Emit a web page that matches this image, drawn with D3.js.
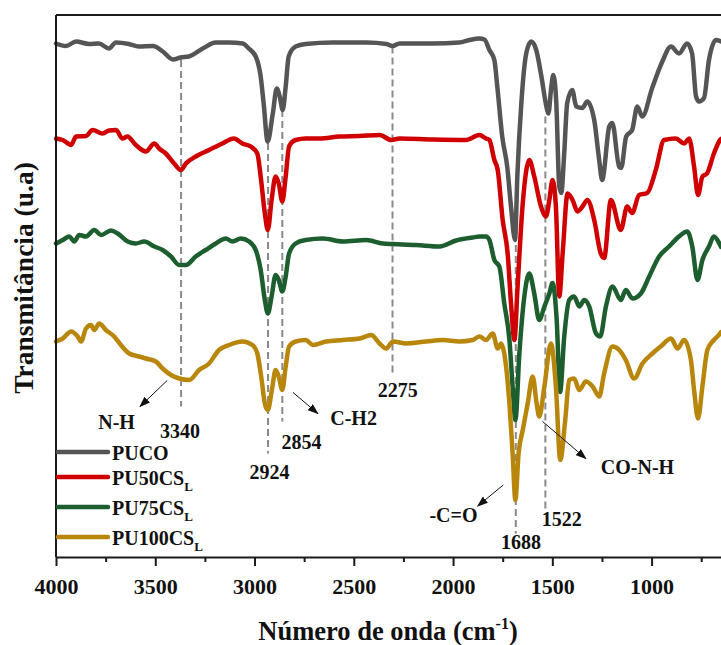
<!DOCTYPE html>
<html>
<head>
<meta charset="utf-8">
<script src="https://cdn.jsdelivr.net/npm/d3@7"></script>
<style>
  body { margin: 0; background: #fff; }
  svg { display: block; font-family: "Liberation Serif", "Times New Roman", serif; font-weight: bold; }
  .curve { fill: none; stroke-width: 4.5; stroke-linejoin: round; stroke-linecap: round; }
  .guide { stroke: #8a8a8a; stroke-width: 2; stroke-dasharray: 7,4; }
  .arrow { stroke: #111; stroke-width: 1; fill: none; }
  .frame { stroke: #1a1a1a; stroke-width: 2; fill: none; }
</style>
</head>
<body>
<svg id="canvas" width="721" height="645"></svg>
<script>
  // spectra: [wavenumber cm-1, transmittance (u.a., stacked)]
  const puco = [[4000,102.7],[3950,102.2],[3899,103.1],[3834,102.6],[3784,102.7],[3733,101.7],[3698,102.9],[3633,102.6],[3583,102.1],[3512,102.2],[3462,101.1],[3411,99.5],[3371,99.9],[3331,100.1],[3261,101.7],[3195,102.9],[3130,102.9],[3059,102.7],[3029,101.7],[2994,100.1],[2969,96.1],[2954,90.7],[2934,83.1],[2908,88.7],[2888,93.7],[2873,92.1],[2858,89.4],[2843,94.1],[2828,100.1],[2793,102.1],[2742,102.6],[2607,102.9],[2436,102.9],[2335,102.6],[2305,102.2],[2270,102.7],[2104,102.7],[1968,102.9],[1918,103.4],[1867,103.7],[1842,103.5],[1817,101.4],[1792,99.4],[1777,94.0],[1752,84.0],[1727,78.0],[1708,70.0],[1688,63.4],[1676,76.4],[1656,90.8],[1631,100.8],[1606,103.1],[1581,101.4],[1555,96.1],[1530,90.1],[1520,88.7],[1505,94.1],[1495,96.4],[1480,90.8],[1465,74.1],[1455,72.8],[1440,80.8],[1425,90.8],[1400,93.4],[1379,90.1],[1349,89.8],[1324,91.1],[1289,87.4],[1264,79.4],[1249,75.4],[1213,86.1],[1198,86.8],[1163,78.0],[1153,77.8],[1128,84.1],[1098,85.4],[1072,90.1],[1047,88.1],[997,93.8],[947,99.0],[902,102.1],[862,100.7],[821,102.7],[796,100.7],[776,92.1],[761,91.1],[736,91.8],[711,99.4],[675,103.4],[650,103.1]];

  const pu50 = [[4000,83.7],[3966,83.4],[3924,82.4],[3899,84.1],[3849,84.2],[3816,85.4],[3765,84.7],[3732,85.3],[3698,85.4],[3665,83.7],[3640,84.1],[3598,82.4],[3547,81.1],[3505,82.7],[3480,81.7],[3447,80.7],[3405,78.7],[3371,77.4],[3346,78.7],[3296,80.1],[3229,81.4],[3162,82.7],[3104,83.7],[3061,82.7],[3019,82.1],[2986,80.7],[2969,76.1],[2948,68.7],[2933,65.4],[2914,71.4],[2894,76.1],[2878,74.7],[2860,71.1],[2843,76.1],[2826,82.1],[2793,83.4],[2742,83.7],[2672,83.7],[2571,84.1],[2471,84.2],[2370,84.4],[2311,83.4],[2270,83.7],[2102,83.5],[1935,83.4],[1867,84.4],[1834,83.7],[1817,83.4],[1792,79.4],[1775,77.4],[1750,67.4],[1725,60.7],[1708,50.7],[1691,43.4],[1675,54.1],[1649,70.7],[1616,79.4],[1591,76.1],[1557,70.1],[1532,68.1],[1515,71.4],[1499,75.4],[1482,70.1],[1465,52.1],[1448,60.7],[1423,72.7],[1398,71.4],[1373,69.1],[1348,70.1],[1323,71.4],[1289,67.4],[1256,60.7],[1239,59.8],[1205,71.4],[1155,65.4],[1123,70.1],[1098,68.8],[1063,72.4],[1022,72.8],[979,77.4],[937,83.4],[878,83.7],[836,82.7],[811,83.7],[786,78.1],[766,72.4],[744,76.1],[721,76.7],[686,80.7],[655,83.4],[650,83.6]];

  const pu75 = [[4000,62.7],[3966,63.4],[3933,64.1],[3908,63.1],[3883,64.4],[3849,64.1],[3807,65.4],[3773,64.4],[3723,65.3],[3689,64.7],[3639,63.1],[3598,62.7],[3556,63.1],[3505,62.1],[3463,61.4],[3421,60.1],[3379,58.4],[3346,58.4],[3296,60.1],[3246,61.4],[3195,62.7],[3145,63.7],[3111,63.1],[3069,63.7],[3027,63.1],[2994,61.4],[2969,57.4],[2948,51.4],[2933,48.7],[2914,52.1],[2894,56.4],[2878,55.4],[2860,53.1],[2843,56.1],[2826,60.7],[2793,62.7],[2742,63.4],[2656,63.7],[2555,63.1],[2437,63.4],[2354,62.7],[2303,62.6],[2186,62.4],[2068,62.1],[1985,63.3],[1901,63.9],[1867,64.1],[1834,64.1],[1817,63.4],[1792,59.4],[1767,58.1],[1742,50.7],[1716,43.4],[1700,34.1],[1686,27.4],[1666,40.7],[1641,52.1],[1616,56.7],[1591,52.7],[1566,47.4],[1540,50.1],[1515,52.7],[1499,54.8],[1478,47.4],[1461,33.0],[1440,44.1],[1415,51.4],[1390,52.1],[1364,50.1],[1339,51.4],[1314,50.1],[1280,44.7],[1259,44.1],[1230,50.1],[1197,54.1],[1155,51.4],[1130,53.4],[1096,51.7],[1054,52.7],[1012,56.1],[962,60.1],[912,62.1],[862,64.1],[820,65.1],[795,62.1],[769,55.4],[744,59.4],[711,62.1],[686,64.1],[655,62.4],[650,62.0]];

  const pu100 = [[4000,43.1],[3966,43.7],[3924,45.1],[3891,44.1],[3874,43.1],[3849,45.7],[3824,46.4],[3807,45.4],[3782,46.7],[3749,45.4],[3707,44.1],[3673,42.4],[3631,40.7],[3581,40.1],[3547,39.7],[3497,39.1],[3463,37.7],[3421,36.4],[3379,35.7],[3329,35.4],[3279,37.4],[3229,38.7],[3179,41.4],[3128,42.4],[3061,43.1],[3011,42.4],[2986,40.7],[2964,35.4],[2948,30.7],[2933,29.4],[2910,34.1],[2894,37.4],[2878,36.1],[2860,33.4],[2843,38.1],[2826,42.1],[2793,43.1],[2742,43.4],[2706,42.4],[2639,43.1],[2555,43.4],[2471,43.7],[2412,44.4],[2370,42.7],[2337,41.7],[2303,43.1],[2236,42.7],[2135,43.1],[2052,43.4],[1968,43.1],[1901,43.4],[1867,44.1],[1834,43.4],[1800,44.7],[1775,41.7],[1758,42.7],[1742,40.7],[1716,30.7],[1700,20.7],[1686,11.4],[1670,20.7],[1649,25.4],[1624,30.7],[1599,36.1],[1579,30.7],[1566,28.1],[1540,34.1],[1507,42.7],[1482,34.1],[1460,19.4],[1435,27.4],[1415,35.4],[1390,35.7],[1364,33.4],[1331,35.1],[1297,34.1],[1264,32.1],[1239,36.7],[1197,42.1],[1163,41.4],[1130,39.4],[1088,35.7],[1046,38.7],[996,40.7],[954,42.1],[902,43.7],[869,41.7],[836,43.4],[802,39.4],[786,33.4],[766,27.7],[744,34.1],[719,41.4],[686,43.4],[655,44.7],[650,45.0]];

  const seriesNames = ["PUCO", "PU50CS", "PU75CS", "PU100CS"];
  const seriesSub = ["", "L", "L", "L"];
  const seriesData = [puco, pu50, pu75, pu100];
  const seriesColors = ["#555555", "#d00000", "#1c5e2e", "#b8860b"];

  const majorTicks = [4000, 3500, 3000, 2500, 2000, 1500, 1000];
  const minorTicks = [3750, 3250, 2750, 2250, 1750, 1250, 750];

  // dashed marker lines: wavenumber and [top, bottom] in transmittance units
  const guideWn = [3370, 2932, 2860, 2305, 1684, 1535];
  const guideSpan = [[99.4, 30.1], [82.8, 20.7], [89.4, 27.1], [102.1, 36.7], [62.4, 4.7], [88.1, 9.7]];
  const peakText = ["3340", "2924", "2854", "2275", "1688", "1522"];
  const peakAt = [[3376, 23.9], [2924, 15.7], [2764, 21.7], [2278, 32.1], [1658, 1.7], [1452, 6.2]];

  // band assignments with arrows [from, to]
  const bandText = ["N-H", "C-H2", "-C=O", "CO-N-H"];
  const bandAt = [[3695, 25.7], [2501, 26.4], [1998, 7.1], [1071, 16.6]];
  const bandArrow = [[[3440, 35.3], [3577, 30.1]], [[2806, 32.9], [2681, 28.7]], [[1747, 14.4], [1876, 10.2]], [[1549, 27.1], [1331, 19.7]]];

  const svg = d3.select("#canvas");
  const plotLeft = 56, plotTop = 15, plotBottom = 557, plotRight = 731;

  const x = d3.scaleLinear().domain([4000, 600]).range([plotLeft, plotRight]);
  const y = d3.scaleLinear().domain([0, 108.4]).range([plotBottom, plotTop]);

  svg.append("defs").append("marker")
      .attr("id", "head")
      .attr("markerUnits", "userSpaceOnUse")
      .attr("markerWidth", 11).attr("markerHeight", 8)
      .attr("refX", 10).attr("refY", 4)
      .attr("orient", "auto")
    .append("path")
      .attr("d", "M0,0 L11,4 L0,8 Z")
      .attr("fill", "#111");

  // guides
  svg.selectAll(".guide")
    .data(guideWn)
    .enter().append("line")
      .attr("class", "guide")
      .attr("x1", d => x(d)).attr("x2", d => x(d))
      .attr("y1", (d, i) => y(guideSpan[i][0]))
      .attr("y2", (d, i) => y(guideSpan[i][1]));

  // spectra
  let line = d3.line()
      .x(d => x(d[0]))
      .y(d => y(d[1]))
      .curve(d3.curveMonotoneX);

  seriesData.forEach((s, i) => {
    svg.append("path")
        .datum(s)
        .attr("class", "curve")
        .attr("stroke", seriesColors[i])
        .attr("d", line);
  });

  // frame
  svg.append("line").attr("class", "frame").attr("x1", plotLeft).attr("x2", plotRight).attr("y1", plotTop).attr("y2", plotTop);
  svg.append("line").attr("class", "frame").attr("x1", plotLeft).attr("x2", plotLeft).attr("y1", plotTop).attr("y2", plotBottom);

  let axis = svg.append("g")
      .attr("transform", `translate(0,${plotBottom})`)
      .call(d3.axisBottom(x).tickValues(majorTicks).tickSize(9).tickSizeOuter(0).tickPadding(12).tickFormat(d3.format("d")));
  axis.select(".domain").attr("stroke", "#1a1a1a").attr("stroke-width", 2);
  axis.selectAll(".tick line").attr("stroke", "#1a1a1a").attr("stroke-width", 2);
  axis.selectAll("text")
      .attr("font-family", "Liberation Serif, Times New Roman, serif")
      .attr("font-weight", "bold")
      .attr("font-size", 22)
      .attr("fill", "#111");

  let minor = svg.append("g")
      .attr("transform", `translate(0,${plotBottom})`)
      .call(d3.axisBottom(x).tickValues(minorTicks).tickSize(5).tickFormat(""));
  minor.select(".domain").remove();
  minor.selectAll(".tick line").attr("stroke", "#1a1a1a").attr("stroke-width", 2);

  // peak numbers
  svg.selectAll(".peak")
    .data(peakText)
    .enter().append("text")
      .attr("class", "peak")
      .attr("x", (d, i) => x(peakAt[i][0]))
      .attr("y", (d, i) => y(peakAt[i][1]))
      .attr("text-anchor", "middle")
      .attr("font-size", 20)
      .attr("fill", "#111")
      .text(d => d);

  // band labels and arrows
  svg.selectAll(".band")
    .data(bandText)
    .enter().append("text")
      .attr("class", "band")
      .attr("x", (d, i) => x(bandAt[i][0]))
      .attr("y", (d, i) => y(bandAt[i][1]))
      .attr("text-anchor", "middle")
      .attr("font-size", 20)
      .attr("fill", "#111")
      .text(d => d);

  svg.selectAll(".arrow")
    .data(bandArrow)
    .enter().append("line")
      .attr("class", "arrow")
      .attr("x1", d => x(d[0][0])).attr("y1", d => y(d[0][1]))
      .attr("x2", d => x(d[1][0])).attr("y2", d => y(d[1][1]))
      .attr("marker-end", "url(#head)");

  // legend
  const legendY = [452, 477, 507, 537];
  seriesNames.forEach((name, i) => {
    let g = svg.append("g").attr("transform", `translate(58,${legendY[i]})`);
    g.append("line")
        .attr("x1", 0).attr("x2", 50)
        .attr("stroke", seriesColors[i])
        .attr("stroke-width", 4.5)
        .attr("stroke-linecap", "round");
    let t = g.append("text")
        .attr("x", 54).attr("y", 7.5)
        .attr("font-size", 20)
        .attr("fill", "#111")
        .text(name);
    if (seriesSub[i]) {
      t.append("tspan").attr("font-size", 13).attr("dy", 6).text(seriesSub[i]);
    }
  });

  // axis titles
  let xt = svg.append("text")
      .attr("x", 388).attr("y", 640)
      .attr("text-anchor", "middle")
      .attr("font-size", 26.5)
      .attr("fill", "#111")
      .text("Número de onda (cm");
  xt.append("tspan").attr("font-size", 16).attr("dy", -11).text("-1");
  xt.append("tspan").attr("dy", 11).text(")");

  svg.append("text")
      .attr("transform", "translate(33,278) rotate(-90)")
      .attr("text-anchor", "middle")
      .attr("font-size", 27.5)
      .attr("fill", "#111")
      .text("Transmitância (u.a)");
</script>
</body>
</html>
